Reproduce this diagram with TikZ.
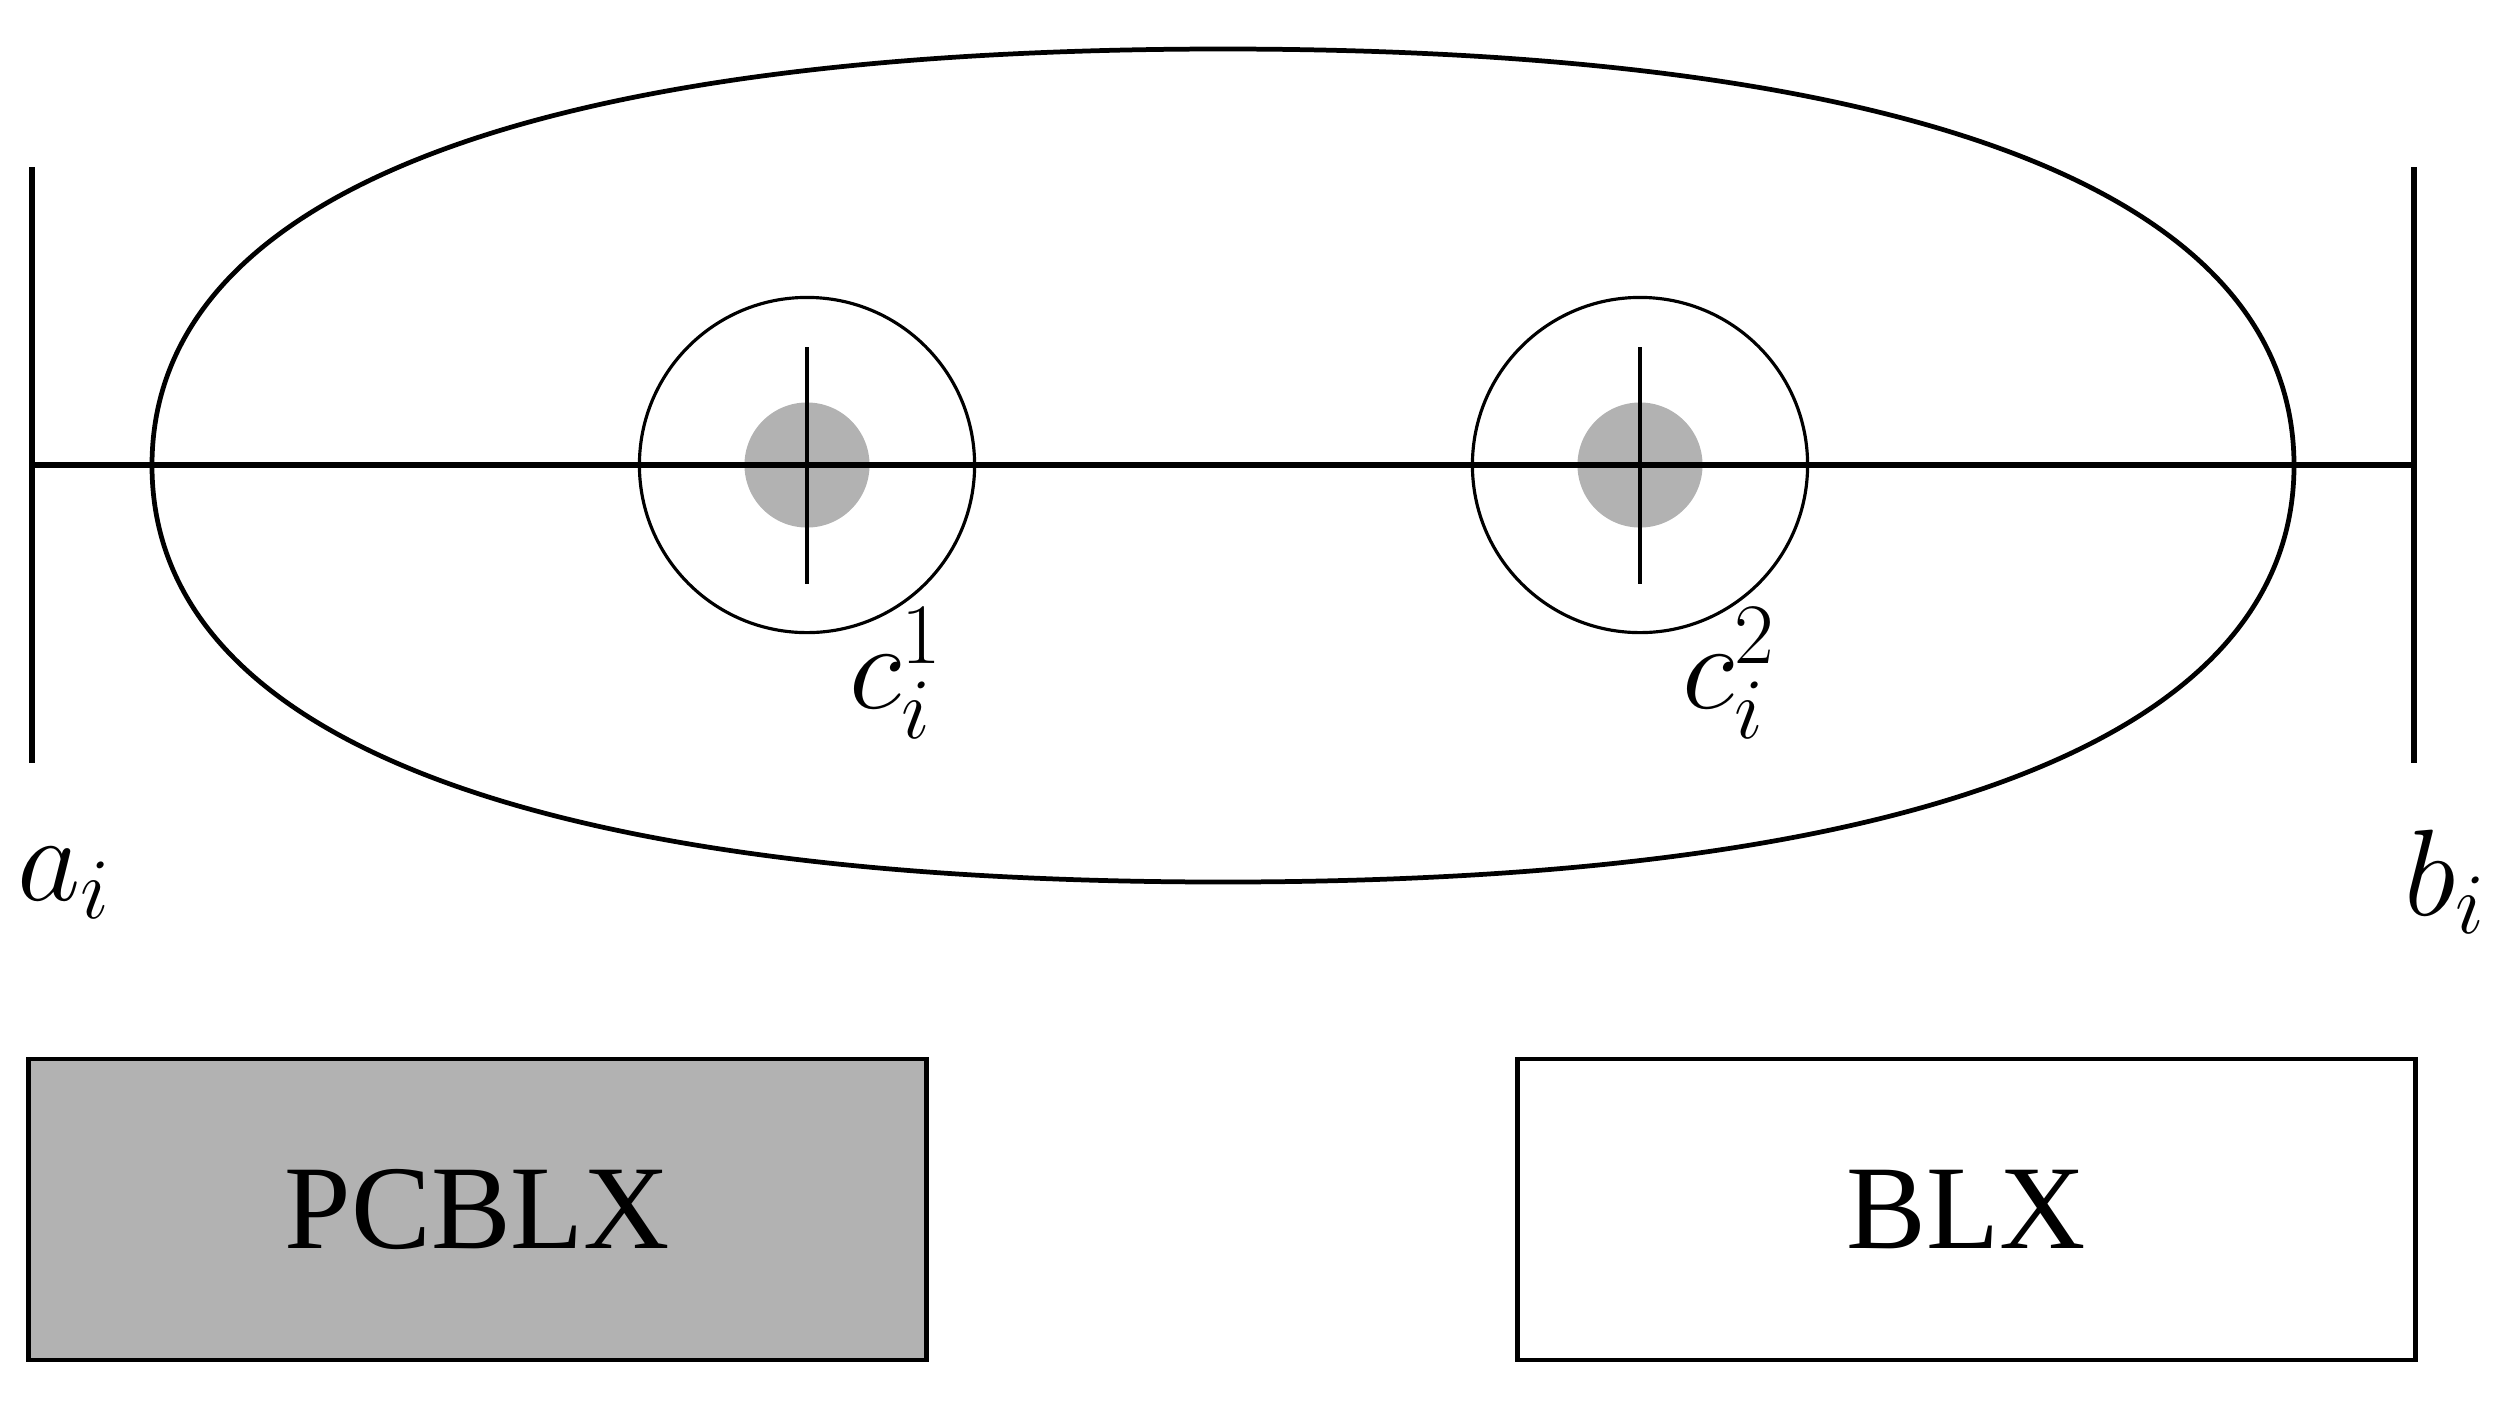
\RequirePackage{fix-cm}
\documentclass[tikz,border=0pt]{standalone}
\usepackage{fontspec}
\newfontfamily\boxfont{Liberation Serif}
\definecolor{greyfill}{gray}{0.7}
\begin{document}
\begin{tikzpicture}[x=0.01cm,y=-0.01cm,
  mathlbl/.style={anchor=base west, inner sep=0pt, font=\fontsize{35}{42}\selectfont},
  axis/.style={line width=1.5pt},
  tick/.style={line width=1.3pt},
  oval/.style={line width=1.35pt},
  ring/.style={circle, draw, line width=0.9pt, minimum size=3.35cm, inner sep=0pt},
  disk/.style={circle, fill=greyfill, minimum size=1.25cm, inner sep=0pt},
  blk/.style={draw, line width=1.3pt, minimum width=8.97cm, minimum height=3.01cm, inner sep=0pt,
    font={\boxfont\fontsize{34}{40}\selectfont}}]
\useasboundingbox (0,0) rectangle (2503,1402);
% big oval (fuller than an ellipse)
\draw[oval] (2294,465.5) .. controls (2294,194.8) and (1919,49) .. (1223,49)
  .. controls (527,49) and (152,194.8) .. (152,465.5)
  .. controls (152,736.2) and (527,882) .. (1223,882)
  .. controls (1919,882) and (2294,736.2) .. (2294,465.5) -- cycle;
% grey disks and rings
\node[disk] (D1) at (807,465) {};
\node[disk] (D2) at (1640,465) {};
\node[ring] (C1) at (807,465) {};
\node[ring] (C2) at (1640,465) {};
% end points
\coordinate (Lt) at (32,167);
\coordinate (Lb) at (32,763);
\coordinate (Rt) at (2414,167);
\coordinate (Rb) at (2414,763);
\coordinate (L) at (32,465);
\coordinate (R) at (2414,465);
\coordinate (v1t) at (807,347);
\coordinate (v1b) at (807,584);
\coordinate (v2t) at (1640,347);
\coordinate (v2b) at (1640,584);
\draw[axis] (Lt) -- (Lb);
\draw[axis] (Rt) -- (Rb);
\draw[axis] (L) -- (R);
\draw[tick] (v1t) -- (v1b);
\draw[tick] (v2t) -- (v2b);
% labels
\node[mathlbl] (lc1) at (849,708) {$c_i^1$};
\node[mathlbl] (lc2) at (1682,708) {$c_i^2$};
\node[mathlbl] (la) at (17,900) {$a_i$};
\node[mathlbl] (lb) at (2404,915) {$b_i$};
% boxes
\node[blk, fill=greyfill] (P) at (477.5,1209.5) {PCBLX};
\node[blk] (B) at (1966.5,1209.5) {BLX};
\end{tikzpicture}
\end{document}
